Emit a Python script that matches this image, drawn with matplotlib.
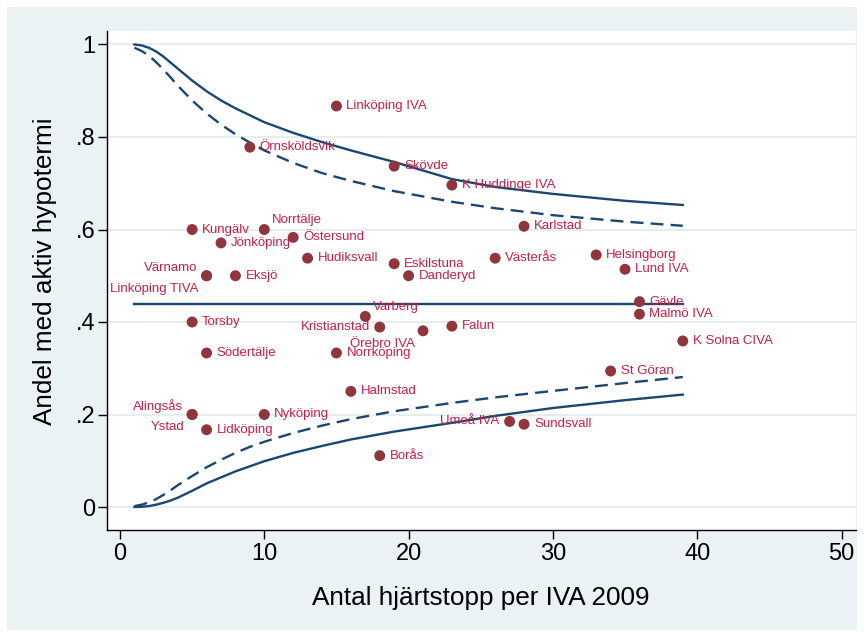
import matplotlib
matplotlib.use('Agg')
import matplotlib.pyplot as plt
from matplotlib.patches import Rectangle

plt.rcParams['font.family'] = ['Liberation Sans', 'DejaVu Sans']

# ---------------- data ----------------
hospitals = ["Linköping IVA", "Örnsköldsvik", "Skövde", "K Huddinge IVA", "Karlstad",
             "Kungälv", "Norrtälje", "Jönköping", "Östersund", "Hudiksvall",
             "Eskilstuna", "Danderyd", "Västerås", "Helsingborg", "Lund IVA",
             "Värnamo", "Linköping TIVA", "Eksjö", "Gävle", "Malmö IVA",
             "Varberg", "Torsby", "Kristianstad", "Örebro IVA", "Falun",
             "K Solna CIVA", "Södertälje", "Norrköping", "St Göran", "Halmstad",
             "Alingsås", "Ystad", "Nyköping", "Lidköping", "Umeå IVA",
             "Sundsvall", "Borås"]
antal = [15, 9, 19, 23, 28,
         5, 10, 7, 12, 13,
         19, 20, 26, 33, 35,
         6, 6, 8, 36, 36,
         17, 5, 18, 21, 23,
         39, 6, 15, 34, 16,
         5, 5, 10, 6, 27,
         28, 18]
andel = [0.867, 0.778, 0.737, 0.696, 0.607,
         0.600, 0.600, 0.571, 0.583, 0.538,
         0.526, 0.500, 0.538, 0.545, 0.514,
         0.500, 0.500, 0.500, 0.444, 0.417,
         0.412, 0.400, 0.389, 0.381, 0.391,
         0.359, 0.333, 0.333, 0.294, 0.250,
         0.200, 0.200, 0.200, 0.167, 0.185,
         0.179, 0.111]

medel = 0.44
kurva_n = [1, 1.5, 2, 2.5, 3, 3.5, 4, 5, 6, 7, 8, 9, 10, 12, 14, 16, 19, 23, 26, 30, 35, 39]
ovre_998 = [1.000, 0.998, 0.993, 0.985, 0.974, 0.961, 0.948, 0.922, 0.899, 0.879,
            0.862, 0.847, 0.832, 0.809, 0.789, 0.771, 0.746, 0.709, 0.692, 0.677,
            0.662, 0.653]
ovre_95 = [0.993, 0.986, 0.976, 0.962, 0.946, 0.929, 0.911, 0.879, 0.851, 0.827,
           0.806, 0.788, 0.771, 0.744, 0.722, 0.705, 0.683, 0.660, 0.646, 0.631,
           0.617, 0.608]
nedre_998 = [0.000, 0.0005, 0.002, 0.005, 0.009, 0.014, 0.020, 0.035, 0.051, 0.064,
             0.077, 0.088, 0.099, 0.117, 0.132, 0.146, 0.163, 0.182, 0.197, 0.214,
             0.231, 0.243]
nedre_95 = [0.002, 0.005, 0.010, 0.017, 0.026, 0.036, 0.047, 0.067, 0.086, 0.102,
            0.117, 0.130, 0.141, 0.160, 0.176, 0.190, 0.207, 0.225, 0.237, 0.251,
            0.268, 0.281]

xticks = [0, 10, 20, 30, 40, 50]
yticks = [0, 0.2, 0.4, 0.6, 0.8, 1.0]
ytick_labels = ["0", ".2", ".4", ".6", ".8", "1"]

# label clock positions (style)
clock = {"Norrtälje": 2, "Varberg": 2, "Värnamo": 10, "Alingsås": 10,
         "Linköping TIVA": 8, "Ystad": 8, "Örebro IVA": 8,
         "Kristianstad": 9, "Umeå IVA": 9}

# ---------------- style ----------------
W, H = 864, 637
BG = '#EAF2F3'
NAVY = '#1A476F'
DOT = '#90353B'
LBL = '#C81E46'

fig = plt.figure(figsize=(W / 100, H / 100), dpi=100, facecolor='white')
fig.patches.append(Rectangle((7 / W, 7 / H), 1 - 14 / W, 1 - 14 / H,
                             transform=fig.transFigure, facecolor=BG,
                             edgecolor='none', zorder=-10))

left, right, top, bottom = 107, 856, 31, 530
ax = fig.add_axes([left / W, 1 - bottom / H, (right - left) / W, (bottom - top) / H])
ax.set_facecolor('white')

x0px, x50px = 120.0, 841.5
ppx = (x50px - x0px) / 50
ax.set_xlim((left - x0px) / ppx, (right - x0px) / ppx)
y0px, y1px = 507.0, 44.5
ppy = y0px - y1px
ax.set_ylim((y0px - bottom) / ppy, (y0px - top) / ppy)

for s in ['top', 'right']:
    ax.spines[s].set_visible(False)
for s in ['left', 'bottom']:
    ax.spines[s].set_linewidth(1.0)
    ax.spines[s].set_color('black')

ax.set_xticks(xticks)
ax.set_yticks(yticks)
ax.set_yticklabels(ytick_labels)
ax.tick_params(axis='both', length=6.2, width=1.0, labelsize=17, colors='black')
ax.tick_params(axis='x', pad=3.5)
ax.tick_params(axis='y', pad=2)

for yv in yticks:
    ax.axhline(yv, color='#E3ECEE', lw=1.3, zorder=0)

# curves
lw = 1.7
ax.plot(kurva_n, ovre_998, color=NAVY, lw=lw, zorder=2, solid_joinstyle='round')
ax.plot(kurva_n, nedre_998, color=NAVY, lw=lw, zorder=2, solid_joinstyle='round')
ax.plot(kurva_n, ovre_95, color=NAVY, lw=lw, dashes=(5.5, 3), zorder=2)
ax.plot(kurva_n, nedre_95, color=NAVY, lw=lw, dashes=(5.5, 3), zorder=2)
ax.plot([kurva_n[0], kurva_n[-1]], [medel, medel], color=NAVY, lw=lw, zorder=2)

ax.scatter(antal, andel, s=62, color=DOT, edgecolors='none', zorder=3)

k = 0.72  # px -> pt
offsets = {3: ((10, 0), 'left'), 9: ((-10, 0), 'right'), 2: ((8, 9), 'left'),
           10: ((-9, 8), 'right'), 8: ((-8, -13), 'right')}
for name, xv, yv in zip(hospitals, antal, andel):
    pos = clock.get(name, 3)
    (dx, dy), ha = offsets[pos]
    ax.annotate(name, (xv, yv), xytext=(dx * k, dy * k), textcoords='offset points',
                ha=ha, va='center', fontsize=9.5, color=LBL, zorder=4)

fig.text(480.5 / W, 1 - 598 / H, "Antal hjärtstopp per IVA 2009", fontsize=18.8,
         ha='center', va='center')
fig.text(45 / W, 1 - 271 / H, "Andel med aktiv hypotermi", fontsize=18.8,
         ha='center', va='center', rotation=90)

fig.savefig('out.png', dpi=100, facecolor='white')
